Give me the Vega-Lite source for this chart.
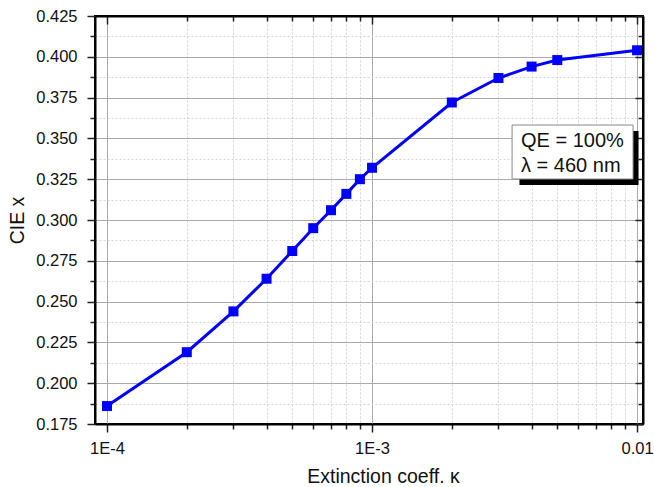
{
  "$schema": "https://vega.github.io/schema/vega-lite/v6.json",
  "autosize": {"type": "none"},
  "padding": {"left": 95, "top": 16, "right": 11, "bottom": 63},
  "width": 548,
  "height": 408,
  "background": "white",
  "config": {
    "view": {"stroke": "black", "strokeWidth": 2},
    "font": "Liberation Sans",
    "axis": {"labelFont": "Liberation Sans", "titleFont": "Liberation Sans", "labelColor": "#111", "titleColor": "#111", "titleFontWeight": "normal", "labelFontSize": 16.5, "titleFontSize": 19.5, "domainColor": "black", "domainWidth": 2, "tickColor": "#222", "tickWidth": 1.5}
  },
  "data": {"values": [
    {"k": 0.0001, "x": 0.186},
    {"k": 0.0002, "x": 0.219},
    {"k": 0.0003, "x": 0.244},
    {"k": 0.0004, "x": 0.264},
    {"k": 0.0005, "x": 0.281},
    {"k": 0.0006, "x": 0.295},
    {"k": 0.0007, "x": 0.306},
    {"k": 0.0008, "x": 0.316},
    {"k": 0.0009, "x": 0.325},
    {"k": 0.001, "x": 0.332},
    {"k": 0.002, "x": 0.372},
    {"k": 0.003, "x": 0.387},
    {"k": 0.004, "x": 0.394},
    {"k": 0.005, "x": 0.398},
    {"k": 0.01, "x": 0.404}
  ]},
  "resolve": {"axis": {"x": "independent", "y": "independent"}},
  "layer": [
    {
      "mark": {"type": "line", "color": "#0000ff", "strokeWidth": 3},
      "encoding": {
        "x": {"field": "k", "type": "quantitative",
          "scale": {"type": "log", "domain": [0.0000901, 0.01053], "nice": false},
          "axis": {
            "orient": "bottom",
            "title": "Extinction coeff. κ",
            "titleX": 288, "titleY": 58, "titleBaseline": "alphabetic", "titleAlign": "center",
            "values": [0.0001,0.0002,0.0003,0.0004,0.0005,0.0006,0.0007,0.0008,0.0009,0.001,0.002,0.003,0.004,0.005,0.006,0.007,0.008,0.009,0.01],
            "labelExpr": "datum.value == 0.0001 ? '1E-4' : datum.value == 0.001 ? '1E-3' : datum.value == 0.01 ? '0.01' : ''",
            "labelPadding": 8,
            "labelFlush": false,
            "labelOverlap": false,
            "grid": true,
            "gridColor": {"condition": {"test": "datum.value == 0.0001 || datum.value == 0.001 || datum.value == 0.01", "value": "#aaaaaa"}, "value": "#d4d4d4"},
            "gridDash": {"condition": {"test": "datum.value == 0.0001 || datum.value == 0.001 || datum.value == 0.01", "value": []}, "value": [2, 2]},
            "gridWidth": 1,
            "tickSize": {"condition": {"test": "datum.value == 0.0001 || datum.value == 0.001 || datum.value == 0.01", "value": 8}, "value": 5}
          }
        },
        "y": {"field": "x", "type": "quantitative",
          "scale": {"domain": [0.175, 0.425], "nice": false, "zero": false},
          "axis": {
            "orient": "left",
            "title": "CIE x",
            "titleX": -72, "titleY": 204, "titleAngle": -90, "titleBaseline": "alphabetic", "titleAlign": "center",
            "values": [0.175,0.1875,0.2,0.2125,0.225,0.2375,0.25,0.2625,0.275,0.2875,0.3,0.3125,0.325,0.3375,0.35,0.3625,0.375,0.3875,0.4,0.4125,0.425],
            "labelExpr": "abs(datum.value*40 - round(datum.value*40)) < 0.000001 ? format(datum.value, '.3f') : ''",
            "labelPadding": 10,
            "labelOverlap": false,
            "labelFlush": false,
            "grid": true,
            "gridColor": {"condition": {"test": "abs(datum.value*40 - round(datum.value*40)) < 0.000001", "value": "#aaaaaa"}, "value": "#d4d4d4"},
            "gridDash": {"condition": {"test": "abs(datum.value*40 - round(datum.value*40)) < 0.000001", "value": []}, "value": [2, 2]},
            "gridWidth": 1,
            "tickSize": {"condition": {"test": "abs(datum.value*40 - round(datum.value*40)) < 0.000001", "value": 8}, "value": 5}
          }
        }
      }
    },
    {
      "mark": {"type": "point", "shape": "square", "filled": true, "color": "#0000ff", "size": 100, "opacity": 1},
      "encoding": {
        "x": {"field": "k", "type": "quantitative", "scale": {"type": "log", "domain": [0.0000901, 0.01053], "nice": false},
          "axis": {
            "orient": "top", "title": null, "labels": false, "grid": false,
            "values": [0.0001,0.0002,0.0003,0.0004,0.0005,0.0006,0.0007,0.0008,0.0009,0.001,0.002,0.003,0.004,0.005,0.006,0.007,0.008,0.009,0.01],
            "tickSize": {"condition": {"test": "datum.value == 0.0001 || datum.value == 0.001 || datum.value == 0.01", "value": -8}, "value": -5}
          }
        },
        "y": {"field": "x", "type": "quantitative", "scale": {"domain": [0.175, 0.425], "nice": false, "zero": false},
          "axis": {
            "orient": "right", "title": null, "labels": false, "grid": false,
            "values": [0.175,0.1875,0.2,0.2125,0.225,0.2375,0.25,0.2625,0.275,0.2875,0.3,0.3125,0.325,0.3375,0.35,0.3625,0.375,0.3875,0.4,0.4125,0.425],
            "tickSize": {"condition": {"test": "abs(datum.value*40 - round(datum.value*40)) < 0.000001", "value": -8}, "value": -5}
          }
        }
      }
    },
    {
      "data": {"values": [{"note": "box"}]},
      "mark": {"type": "rect", "fill": "black"},
      "encoding": {
        "x": {"datum": 0.003600, "type": "quantitative", "axis": null},
        "x2": {"datum": 0.010130},
        "y": {"datum": 0.35450, "type": "quantitative", "axis": null},
        "y2": {"datum": 0.32150}
      }
    },
    {
      "data": {"values": [{"note": "box"}]},
      "mark": {"type": "rect", "fill": "white", "stroke": "#888888", "strokeWidth": 1},
      "encoding": {
        "x": {"datum": 0.003376, "type": "quantitative", "axis": null},
        "x2": {"datum": 0.009658},
        "y": {"datum": 0.35821, "type": "quantitative", "axis": null},
        "y2": {"datum": 0.32512}
      }
    },
    {
      "data": {"values": [{"note": "QE = 100%"}]},
      "mark": {"type": "text", "align": "left", "baseline": "alphabetic", "fontSize": 20, "font": "Liberation Sans", "fill": "#111", "strokeWidth": 0, "fontWeight": "normal"},
      "encoding": {
        "text": {"field": "note"},
        "x": {"datum": 0.00365, "type": "quantitative", "axis": null},
        "y": {"datum": 0.34473, "type": "quantitative", "axis": null}
      }
    },
    {
      "data": {"values": [{"note": "λ = 460 nm"}]},
      "mark": {"type": "text", "align": "left", "baseline": "alphabetic", "fontSize": 20, "font": "Liberation Sans", "fill": "#111", "strokeWidth": 0, "fontWeight": "normal"},
      "encoding": {
        "text": {"field": "note"},
        "x": {"datum": 0.00365, "type": "quantitative", "axis": null},
        "y": {"datum": 0.32941, "type": "quantitative", "axis": null}
      }
    }
  ]
}
